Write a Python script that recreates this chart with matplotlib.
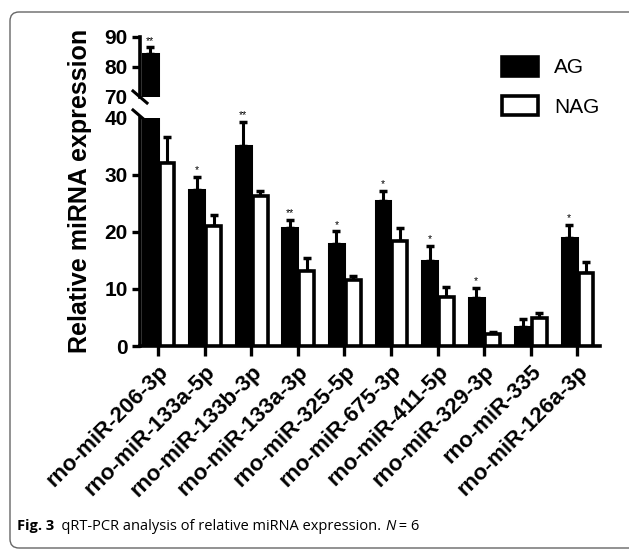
import numpy as np
import matplotlib
matplotlib.use("Agg")
import matplotlib.pyplot as plt
from matplotlib.patches import FancyBboxPatch

plt.rcParams["font.family"] = ["Liberation Sans", "DejaVu Sans"]

# data
mirnas = ["rno-miR-206-3p", "rno-miR-133a-5p", "rno-miR-133b-3p", "rno-miR-133a-3p",
          "rno-miR-325-5p", "rno-miR-675-3p", "rno-miR-411-5p", "rno-miR-329-3p",
          "rno-miR-335", "rno-miR-126a-3p"]
ag_mean = [84.2, 27.4, 35.1, 20.7, 17.9, 25.4, 14.9, 8.4, 3.3, 18.9]
ag_err = [2.4, 2.3, 4.2, 1.4, 2.2, 1.8, 2.6, 1.8, 1.4, 2.4]
nag_mean = [32.1, 21.0, 26.3, 13.2, 11.6, 18.4, 8.6, 2.1, 5.0, 12.8]
nag_err = [4.6, 2.0, 0.9, 2.2, 0.7, 2.3, 1.7, 0.3, 0.8, 1.9]
stars = ["**", "*", "**", "**", "*", "*", "*", "*", "", "*"]

W, H = 629, 549
fig = plt.figure(figsize=(W / 100, H / 100), dpi=100)

def fx(px):
    return px / W

def fy(px):
    return 1 - px / H

left, right = fx(140), fx(600)
ax_top = fig.add_axes([left, fy(97), right - left, fy(37) - fy(97)])
ax = fig.add_axes([left, fy(346), right - left, fy(118) - fy(346)])

x = np.arange(len(mirnas))
bw = 0.32
xa = x - 0.17
xn = x + 0.19

for a, lo, hi in ((ax, 0, 40), (ax_top, 70, 90)):
    a.bar(xa, ag_mean, bw, color="black", edgecolor="black", linewidth=2.2, zorder=3)
    a.bar(xn, nag_mean, bw, color="white", edgecolor="black", linewidth=2.6, zorder=3)
    a.errorbar(xa, ag_mean, yerr=[np.zeros(len(x)), ag_err], fmt="none", ecolor="black",
               elinewidth=2.2, capsize=3, capthick=2.5, zorder=2)
    a.errorbar(xn, nag_mean, yerr=[np.zeros(len(x)), nag_err], fmt="none", ecolor="black",
               elinewidth=2.2, capsize=3, capthick=2.5, zorder=2)
    for i in range(len(x)):
        ys = ag_mean[i] + ag_err[i]
        if stars[i] and lo < ys < hi + 2:
            a.text(xa[i], ys + 0.3, stars[i], ha="center", va="bottom",
                   fontsize=7.5, clip_on=False)
    a.set_xlim(-0.39, 9.49)
    a.spines["top"].set_visible(False)
    a.spines["right"].set_visible(False)
    a.spines["left"].set_linewidth(2.6)
    a.tick_params(axis="y", length=6, width=2.4, labelsize=15, pad=3)

ax.set_ylim(0, 40)
ax.set_yticks([0, 10, 20, 30, 40])
ax.set_yticklabels(["0", "10", "20", "30", "40"], fontweight="bold", fontsize=15)
ax.yaxis.get_major_ticks()[-1].tick1line.set_visible(False)
ax.spines["bottom"].set_linewidth(2.6)
ax.set_xticks(x)
ax.set_xticklabels(mirnas, rotation=45, ha="right", rotation_mode="anchor",
                   fontsize=16, fontweight="bold")
ax.tick_params(axis="x", length=7, width=2.4, pad=4)

ax_top.set_ylim(70, 90)
ax_top.set_yticks([70, 80, 90])
ax_top.set_yticklabels(["70", "80", "90"], fontweight="bold", fontsize=15)
ax_top.yaxis.get_major_ticks()[0].tick1line.set_visible(False)
ax_top.spines["bottom"].set_visible(False)
ax_top.set_xticks([])
ax_top.patch.set_alpha(0)

# break marks
for yc in (97, 116):
    fig.add_artist(plt.Line2D([fx(133), fx(147)], [fy(yc - 6), fy(yc + 6)],
                              color="black", linewidth=2.2))

fig.text(fx(80), fy(191), "Relative miRNA expression", rotation=90, ha="center",
         va="center", fontsize=18, fontweight="bold")

leg = ax.legend(["AG", "NAG"], loc="upper left", bbox_to_anchor=(fx(502), fy(57)),
                bbox_transform=fig.transFigure, frameon=False, fontsize=15,
                handlelength=1.75, handleheight=1.0, handletextpad=0.75,
                labelspacing=0.9, borderpad=0, borderaxespad=0)
for h in leg.legend_handles:
    h.set_linewidth(2.6)

# caption
t1 = fig.text(fx(17), fy(530), "Fig. 3", fontweight="bold", fontsize=10.5,
              family="Open Sans", va="baseline")
t2 = fig.text(0, 0, "  qRT-PCR analysis of relative miRNA expression. ", fontsize=10.5,
              family="Open Sans", va="baseline")
t3 = fig.text(0, 0, "N", fontsize=10.5, family="Open Sans", style="italic", va="baseline")
t4 = fig.text(0, 0, " = 6", fontsize=10.5, family="Open Sans", va="baseline")

fig.canvas.draw()
r = fig.canvas.get_renderer()
prev = t1
for t in (t2, t3, t4):
    bb = prev.get_window_extent(r)
    t.set_position((bb.x1 / W, prev.get_position()[1]))
    prev = t

box = FancyBboxPatch((0.10, 0.01), 7.0, 5.36, boxstyle="round,pad=0,rounding_size=0.09",
                     transform=fig.dpi_scale_trans, facecolor="none",
                     edgecolor="#666666", linewidth=1.0)
fig.add_artist(box)

fig.savefig("out.png", dpi=100)
